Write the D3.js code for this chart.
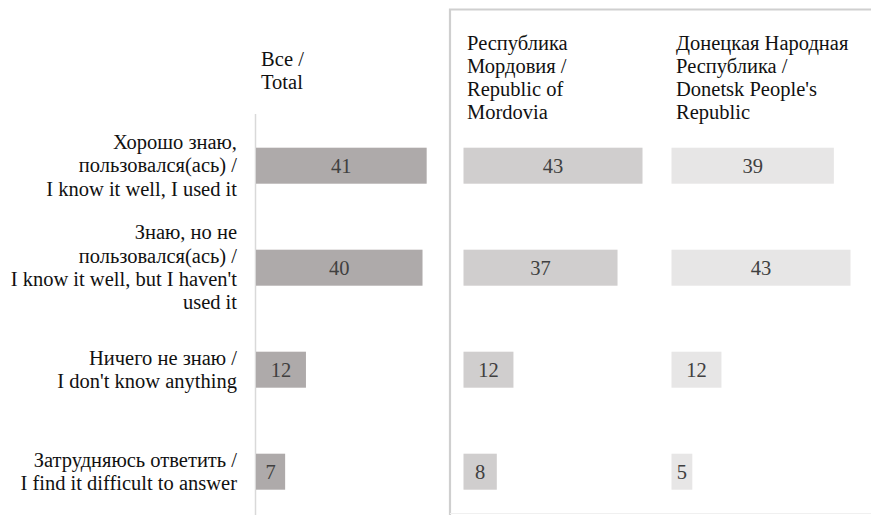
<!DOCTYPE html>
<html><head><meta charset="utf-8">
<script src="https://cdn.jsdelivr.net/npm/d3@7"></script>
<style>body{margin:0;background:#fff}svg{display:block}</style>
</head><body>
<svg id="c" width="871" height="515"></svg>
<script>
const categories = [
  "Хорошо знаю,\nпользовался(ась) /\nI know it well, I used it",
  "Знаю, но не\nпользовался(ась) /\nI know it well, but I haven't\nused it",
  "Ничего не знаю /\nI don't know anything",
  "Затрудняюсь ответить /\nI find it difficult to answer"
];
const seriesNames = [
  "Все /\nTotal",
  "Республика\nМордовия /\nRepublic of\nMordovia",
  "Донецкая Народная\nРеспублика /\nDonetsk People's\nRepublic"
];
const totalValues = [41, 40, 12, 7];
const mordoviaValues = [43, 37, 12, 8];
const dprValues = [39, 43, 12, 5];
const seriesValues = [totalValues, mordoviaValues, dprValues];
const seriesColors = ["#aeaaaa", "#d0cece", "#e7e6e6"];

const svg = d3.select("#c");
function tx(sel) {
  return sel.style("font-family", "'Liberation Serif'").style("font-size", "20.5px");
}

const x = d3.scaleLinear().domain([0, 43]).range([0, 179]);
const y = d3.scalePoint().domain(categories).range([165.7, 471.7]);
const barH = 36;

// right panel frame
svg.append("path")
  .attr("d", "M450,515 L450,9.5 L871,9.5")
  .attr("fill", "none").attr("stroke", "#cfcfcf").attr("stroke-width", 2.2);
svg.append("line").attr("x1", 450).attr("x2", 871).attr("y1", 513.5).attr("y2", 513.5)
  .attr("stroke", "#f0f0f0").attr("stroke-width", 1);

// total axis line
svg.append("line").attr("x1", 255.5).attr("x2", 255.5).attr("y1", 114).attr("y2", 515)
  .attr("stroke", "#d9d9d9").attr("stroke-width", 1.5);

// category labels
const lh = 23.3;
categories.forEach(c => {
  const lines = c.split("\n");
  const t = tx(svg.append("text"))
    .attr("text-anchor", "end")
    .attr("fill", "#111");
  const startY = y(c) + 6.5 - (lines.length - 1) * lh / 2;
  lines.forEach((l, i) => {
    t.append("tspan").attr("x", 237).attr("y", startY + i * lh).text(l);
  });
});

// headers
const headerX = [261, 467, 676];
const headerY = [66, 50, 50];
seriesNames.forEach((n, si) => {
  const t = tx(svg.append("text")).attr("fill", "#111");
  n.split("\n").forEach((l, i) => {
    t.append("tspan").attr("x", headerX[si]).attr("y", headerY[si] + i * 23).text(l);
  });
});

// bars
const panelStart = [256, 463.5, 671.5];
seriesValues.forEach((vals, si) => {
  const g = svg.append("g").attr("transform", `translate(${panelStart[si]},0)`);
  g.selectAll("rect").data(vals).join("rect")
    .attr("x", 0)
    .attr("y", (d, i) => y(categories[i]) - barH / 2)
    .attr("width", d => x(d))
    .attr("height", barH)
    .attr("fill", seriesColors[si]);
  tx(g.selectAll("text").data(vals).join("text"))
    .attr("x", d => x(d) / 2)
    .attr("y", (d, i) => y(categories[i]) + 7)
    .attr("text-anchor", "middle")
    .attr("fill", "#404040")
    .text(d => d);
});
</script>
</body></html>
